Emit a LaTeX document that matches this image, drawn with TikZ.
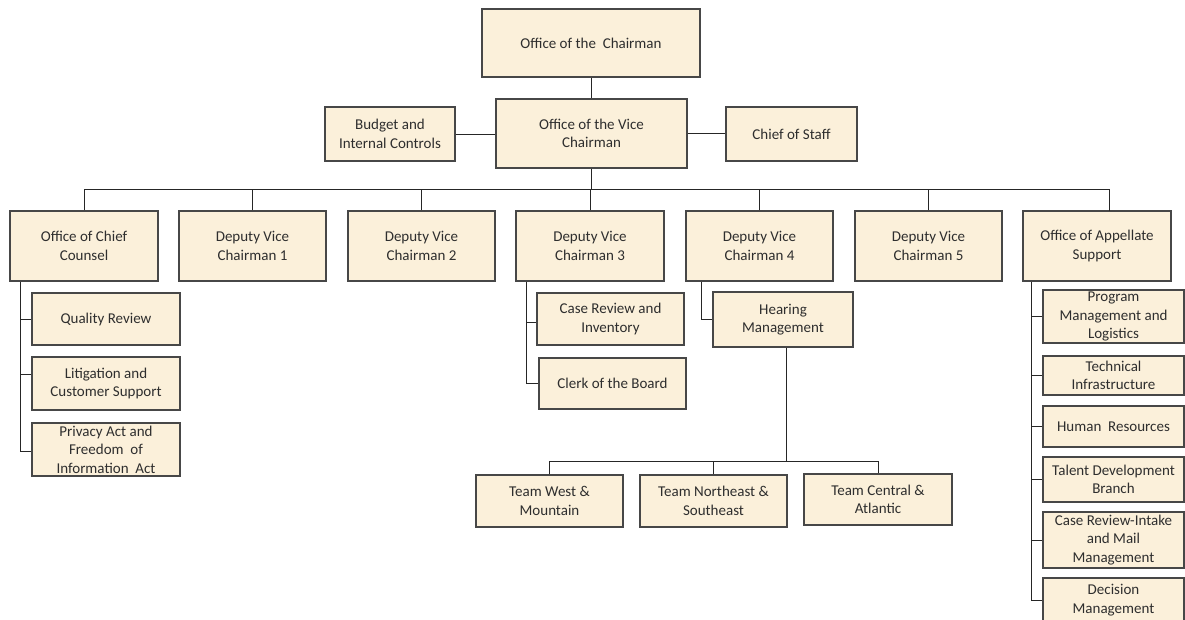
\documentclass[tikz,border=0pt]{standalone}
\usepackage{fontspec}
\setmainfont{Carlito}
\definecolor{boxfill}{HTML}{FBF0DA}
\definecolor{boxline}{HTML}{474747}
\definecolor{txt}{HTML}{2E2E2E}
\tikzset{
  box/.style={draw=boxline, line width=1.1pt, fill=boxfill, text=txt, align=center,
    inner sep=0pt, font=\fontsize{15}{18.5}\selectfont},
  conn/.style={draw=black!85, line width=0.9pt}
}
\newcommand\bx[6]{\node[box, minimum width={(#4-#2)*1pt}, minimum height={(#5-#3)*1pt}] (#1) at ({(#2+#4)/2},{(#3+#5)/2}) {#6};}
\begin{document}
\begin{tikzpicture}[x=1pt,y=-1pt]
\useasboundingbox (0,0) rectangle (1185,619);
\clip (0,0) rectangle (1185,619);
\fill[white] (0,0) rectangle (1185,619);
% top
\bx{chair}{482}{9}{700}{77}{Office of the\ \ Chairman}
\bx{vice}{496}{99}{687}{168}{Office of the Vice\\Chairman}
\bx{budget}{325}{107}{455}{161}{Budget and\\Internal Controls}
\bx{cos}{726}{107}{857}{161}{Chief of Staff}
% second row
\bx{counsel}{10}{211}{158}{281}{Office of Chief\\Counsel}
\bx{dvc1}{179}{211}{326}{281}{Deputy Vice\\Chairman 1}
\bx{dvc2}{348}{211}{495}{281}{Deputy Vice\\Chairman 2}
\bx{dvc3}{516}{211}{664}{281}{Deputy Vice\\Chairman 3}
\bx{dvc4}{686}{211}{833}{281}{Deputy Vice\\Chairman 4}
\bx{dvc5}{855}{211}{1002}{281}{Deputy Vice\\Chairman 5}
\bx{app}{1023}{211}{1171}{281}{Office of Appellate\\Support}
% counsel children
\bx{quality}{32}{293}{180}{345}{Quality Review}
\bx{litig}{32}{357}{180}{410}{Litigation and\\Customer Support}
\bx{privacy}{32}{423}{180}{476}{Privacy Act and\\Freedom\ \ of\\Information\ \ Act}
% dvc3 children
\bx{caserev}{537}{293}{684}{345}{Case Review and\\Inventory}
\bx{clerk}{539}{358}{686}{409}{Clerk of the Board}
% dvc4 children
\bx{hearing}{713}{292}{853}{347}{Hearing\\Management}
\bx{west}{476}{475}{623}{527}{Team West \&\\Mountain}
\bx{ne}{640}{475}{787}{527}{Team Northeast \&\\Southeast}
\bx{central}{804}{474}{952}{525}{Team Central \&\\Atlantic}
% appellate children
\bx{prog}{1043}{290}{1184}{343}{Program\\Management and\\Logistics}
\bx{tech}{1043}{356}{1184}{395}{Technical\\Infrastructure}
\bx{hr}{1043}{406}{1184}{447}{Human\ \ Resources}
\bx{talent}{1043}{457}{1184}{502}{Talent Development\\Branch}
\bx{cri}{1043}{512}{1184}{568}{Case Review-Intake\\and Mail\\Management}
\bx{dec}{1043}{578}{1184}{622}{Decision\\Management}
% connectors
\coordinate (bus) at (0,189);
\coordinate (apptop) at (1109,211);
\draw[conn] (vice.north) -- (vice.north |- chair.south);
\draw[conn] (budget.east) -- (budget.east -| vice.west);
\draw[conn] (vice.east) -- (vice.east -| cos.west);
\draw[conn] (counsel.north) |- (apptop |- bus) -- (apptop);
\draw[conn] (vice.south) -- (vice.south |- bus);
\foreach \n in {dvc1,dvc2,dvc3,dvc4,dvc5} \draw[conn] (\n.north) -- (\n.north |- bus);
% counsel spine
\coordinate (cs) at (20,0);
\draw[conn] (counsel.south -| cs) |- ([yshift=-2pt]privacy.west);
\draw[conn] (cs |- quality.west) -- (quality.west);
\draw[conn] ([yshift=9pt]litig.west -| cs) -- ([yshift=9pt]litig.west);
% dvc3 spine
\coordinate (s3) at (526,0);
\draw[conn] (dvc3.south -| s3) |- (clerk.west);
\draw[conn] ([yshift=-3pt]caserev.west -| s3) -- ([yshift=-3pt]caserev.west);
% dvc4 spine
\coordinate (s4) at (701,0);
\draw[conn] (dvc4.south -| s4) |- (hearing.west);
% hearing to teams
\coordinate (hb) at (0,461);
\coordinate (hd) at (786,0);
\draw[conn] (hearing.south -| hd) -- (hd |- hb);
\draw[conn] (west.north) |- (central.north |- hb) -- (central.north);
\draw[conn] (ne.north) -- (ne.north |- hb);
% appellate spine
\coordinate (sa) at (1031,0);
\draw[conn] (app.south -| sa) |- (dec.west);
\foreach \n in {prog,tech,hr,talent,cri} \draw[conn] (sa |- \n.west) -- (\n.west);
\end{tikzpicture}
\end{document}
